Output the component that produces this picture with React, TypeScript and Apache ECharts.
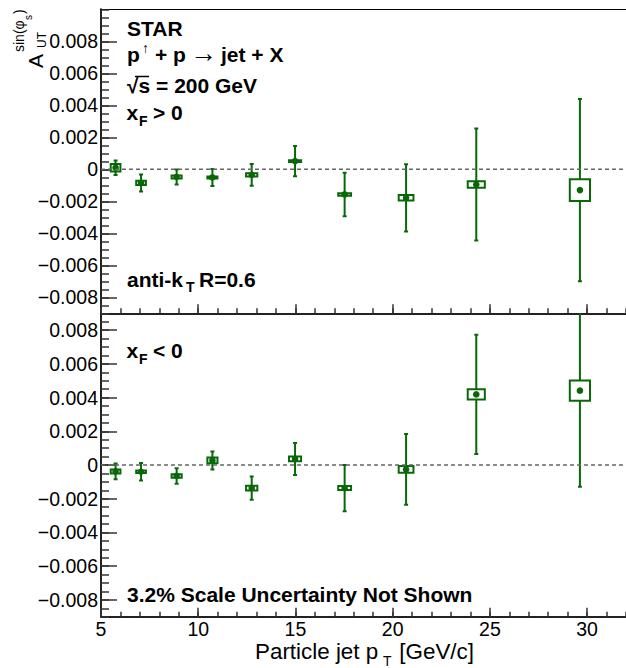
import React, { useEffect, useRef } from "react";
import * as echarts from "echarts";

// ---- data ----
const ptMean = [5.75, 7.06, 8.89, 10.73, 12.75, 14.98, 17.53, 20.69, 24.3, 29.63];
const boxHalfWidth = [0.25, 0.25, 0.26, 0.26, 0.29, 0.31, 0.33, 0.38, 0.44, 0.52];

const topVal = [0.0001, -0.00085, -0.00048, -0.00051, -0.00035, 0.00051, -0.00157, -0.00178, -0.00095, -0.0013];
const topStat = [0.00045, 0.00053, 0.00047, 0.00053, 0.00068, 0.00094, 0.00136, 0.0021, 0.0035, 0.0057];
const topSys = [0.00023, 0.00013, 0.0001, 0.00006, 0.0001, 0.00005, 0.00008, 0.00017, 0.0002, 0.00068];

const botVal = [-0.00038, -0.0004, -0.00065, 0.00027, -0.00137, 0.00036, -0.00137, -0.00026, 0.00419, 0.00441];
const botStat = [0.00047, 0.00052, 0.00046, 0.00053, 0.00069, 0.00095, 0.00137, 0.0021, 0.00354, 0.0057];
const botSys = [0.00012, 0.00008, 0.0001, 0.00017, 0.00014, 0.00014, 0.00012, 0.0002, 0.0003, 0.0006];

const yMajorTicks = [-0.008, -0.006, -0.004, -0.002, 0, 0.002, 0.004, 0.006, 0.008];
const xMajorTicks = [5, 10, 15, 20, 25, 30];
const zeroLine = [[5, 0], [32, 0]];

const G = "#086808";
const FONT = "'Liberation Sans', Arial, Helvetica, sans-serif";

function fmtY(v: number) {
  const r = Math.round(v * 1000) / 1000;
  if (Math.abs(r) < 1e-9) return "0";
  return (r < 0 ? "\u2212" : "") + Math.abs(r).toFixed(3);
}

function renderPoint(params: any, api: any) {
  const x = api.value(0), y = api.value(1), e = api.value(2), sy = api.value(3), dx = api.value(4);
  const c = api.coord([x, y]);
  const t = api.coord([x, y + e]);
  const b = api.coord([x, y - e]);
  const bl = api.coord([x - dx, y - sy]);
  const tr = api.coord([x + dx, y + sy]);
  const ls = { stroke: G, lineWidth: 2 };
  return {
    type: "group",
    children: [
      { type: "line", shape: { x1: c[0], y1: t[1], x2: c[0], y2: b[1] }, style: ls },
      { type: "line", shape: { x1: c[0] - 2, y1: t[1], x2: c[0] + 2, y2: t[1] }, style: ls },
      { type: "line", shape: { x1: c[0] - 2, y1: b[1], x2: c[0] + 2, y2: b[1] }, style: ls },
      { type: "rect", shape: { x: bl[0], y: tr[1], width: tr[0] - bl[0], height: bl[1] - tr[1] }, style: { fill: "#fff", stroke: G, lineWidth: 2 } },
      { type: "circle", shape: { cx: c[0], cy: c[1], r: 3.3 }, style: { fill: G } },
    ],
  };
}

function pts(val: number[], stat: number[], sys: number[]) {
  return ptMean.map((x, i) => [x, val[i], stat[i], sys[i], boxHalfWidth[i]]);
}

function txt(text: string, x: number, y: number, size = 21, bold = true, align = "left") {
  return {
    type: "text",
    x, y,
    style: { text, fill: "#000", font: `${bold ? "bold " : ""}${size}px ${FONT}`, textAlign: align, textVerticalAlign: "middle" },
  };
}

export default function App() {
  const ref = useRef<HTMLDivElement>(null);
  useEffect(() => {
    document.body.style.margin = "0";
    const chart = echarts.init(ref.current!, undefined, { renderer: "svg" });
    const grids = [
      { left: 101, top: 9.3, width: 527, height: 304 },
      { left: 101, top: 313.3, width: 527, height: 303.4 },
    ];
    const ranges = [[-0.009, 0.01], [-0.009, 0.009]];
    const yAxis: any[] = [];
    const xAxis: any[] = [];
    [0, 1].forEach((g) => {
      yAxis.push({
        type: "value", gridIndex: g, min: ranges[g][0], max: ranges[g][1], interval: 0.0005, position: "left",
        axisLine: { show: true, lineStyle: { color: "#222", width: 2 } },
        axisTick: { show: true, inside: true, length: 8, lineStyle: { color: "#333", width: 1.5 } },
        axisLabel: { show: false }, splitLine: { show: false },
      });
      yAxis.push({
        type: "value", gridIndex: g, min: ranges[g][0], max: ranges[g][1], position: "left",
        axisLine: { show: false },
        axisTick: { show: true, inside: true, length: 16, customValues: yMajorTicks, lineStyle: { color: "#333", width: 1.5 } },
        axisLabel: { show: true, customValues: yMajorTicks, formatter: fmtY, fontSize: 19.5, fontFamily: FONT, color: "#000", margin: 3 },
        splitLine: { show: false },
      });
      xAxis.push({
        type: "value", gridIndex: g, min: 5, max: 32, interval: 1, position: "bottom",
        axisLine: { show: true, onZero: false, lineStyle: { color: "#222", width: 2 } },
        axisTick: { show: true, inside: true, length: 5, lineStyle: { color: "#333", width: 1.5 } },
        axisLabel: { show: false }, splitLine: { show: false },
      });
      xAxis.push({
        type: "value", gridIndex: g, min: 5, max: 32, position: "bottom",
        axisLine: { show: false, onZero: false },
        axisTick: { show: true, inside: true, length: 9, customValues: xMajorTicks, lineStyle: { color: "#333", width: 1.5 } },
        axisLabel: { show: g === 1, customValues: xMajorTicks, fontSize: 19.5, fontFamily: FONT, color: "#000", margin: 2 },
        splitLine: { show: false },
      });
    });
    xAxis.push({
      type: "value", gridIndex: 0, min: 5, max: 32, position: "top",
      axisLine: { show: true, onZero: false, lineStyle: { color: "#000", width: 1 } },
      axisTick: { show: false }, axisLabel: { show: false }, splitLine: { show: false },
    });

    const series: any[] = [];
    [0, 1].forEach((g) => {
      series.push({
        type: "line", xAxisIndex: g * 2, yAxisIndex: g * 2, data: zeroLine, symbol: "none", silent: true,
        lineStyle: { color: "#666", width: 1.5, type: [4, 3] },
      });
      series.push({
        type: "custom", xAxisIndex: g * 2, yAxisIndex: g * 2, clip: true,
        data: g === 0 ? pts(topVal, topStat, topSys) : pts(botVal, botStat, botSys),
        renderItem: renderPoint,
      });
    });

    const graphic: any[] = [
      txt("STAR", 127, 28),
      txt("p", 127, 54),
      txt("\u2191", 142, 48, 14, false),
      txt("+ p", 155, 54),
      txt("\u2192", 190, 53, 27, false),
      txt("jet + X", 221, 54),
      txt("\u221As = 200 GeV", 127, 85),
      { type: "line", shape: { x1: 135, y1: 76.5, x2: 149, y2: 76.5 }, style: { stroke: "#000", lineWidth: 1.5 } },
      txt("x", 126.5, 112.5),
      txt("F", 139, 121, 14),
      txt("> 0", 153, 112.5),
      txt("anti-k", 127, 279),
      txt("T", 186, 287, 14),
      txt("R=0.6", 199, 279),
      txt("x", 126.5, 350),
      txt("F", 139, 358.5, 14),
      txt("< 0", 153, 350),
      txt("3.2% Scale Uncertainty Not Shown", 127, 594),
      txt("Particle jet p", 255, 651.7, 22.4, false),
      txt("T", 383, 661, 14, false),
      txt("[GeV/c]", 474, 651.7, 22.4, false, "right"),
      {
        type: "group", x: 42, y: 68, rotation: Math.PI / 2,
        children: [
          txt("A", 0, -7, 21, false),
          txt("UT", 20, -0.5, 12, false),
          txt("sin(\u03C6", 16, -23.5, 14, false),
          txt("s", 48, -13.5, 10, false),
          txt(")", 54, -23.5, 14, false),
        ],
      },
    ];

    chart.setOption({
      animation: false,
      backgroundColor: "#fff",
      grid: grids,
      xAxis,
      yAxis,
      series,
      graphic,
    });
    return () => chart.dispose();
  }, []);
  return <div ref={ref} style={{ width: 626, height: 668 }} />;
}
